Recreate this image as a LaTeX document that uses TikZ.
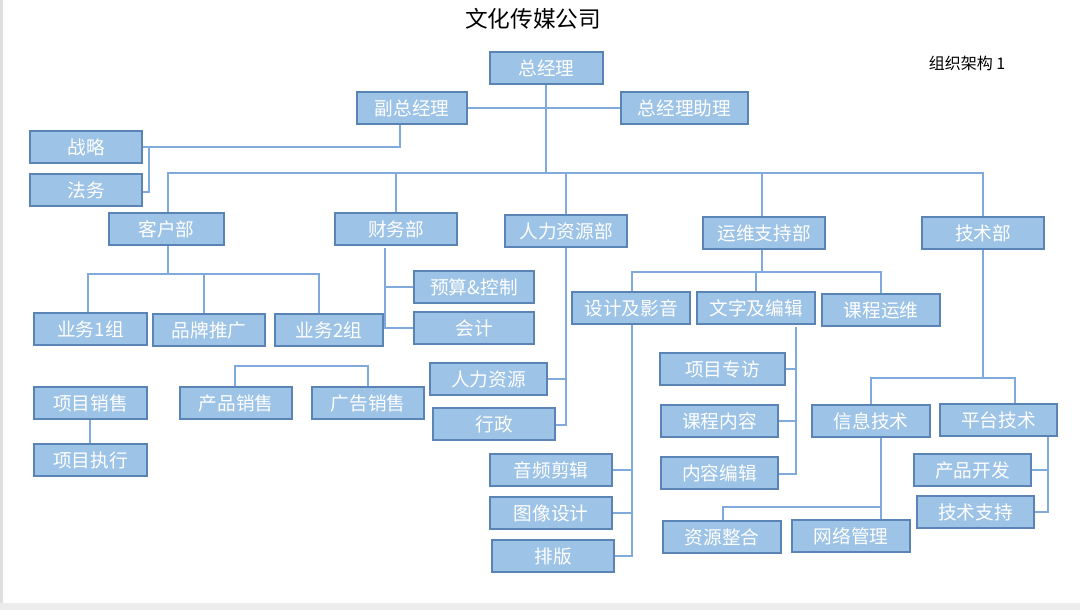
\documentclass[tikz,border=0pt]{standalone}
\usepackage{fontspec}
\setmainfont{Noto Sans CJK SC}
\begin{document}
\begin{tikzpicture}[x=0.75pt,y=-0.75pt,
  box/.style={draw=bordc,fill=boxc,line width=1pt,inner sep=0pt,text=white,font=\fontsize{14}{16}\selectfont},
  ln/.style={draw=linec,line width=0.9pt}]
\definecolor{boxc}{HTML}{9DC3E6}
\definecolor{bordc}{HTML}{5A84B5}
\definecolor{linec}{HTML}{7FAADB}
\useasboundingbox (0,0) rectangle (1080,610);
\fill[gray!25] (0,0) rectangle (3,610);
\fill[gray!15] (0,603) rectangle (1080,610);
\newcommand\bx[6]{\node[box,minimum width={(#4-#2)*0.75pt},minimum height={(#5-#3)*0.75pt}] (#1) at ({(#2+#4)/2},{(#3+#5)/2}) {#6};}
\node (title) at (533,19) {\fontsize{17}{20}\selectfont 文化传媒公司};
\node (lab) at (967,63) {\fontsize{12}{14}\selectfont 组织架构 1};
% connectors first
\coordinate (t1) at (546,173);
\draw[ln] (546,84) -- (t1);
\draw[ln] (467,108) -- (621,108);
\draw[ln] (168,213) |- (983,173) -- (983,217);
\draw[ln] (396,173) -- (396,213);
\draw[ln] (566,173) -- (566,215);
\draw[ln] (762,173) -- (762,217);
\draw[ln] (400,124) |- (142,147);
\draw[ln] (149,147) |- (142,192);
\draw[ln] (168,245) -- (168,274);
\draw[ln] (88,313) |- (319,274) -- (319,314);
\draw[ln] (204,274) -- (204,314);
\draw[ln] (385,248) |- (414,328);
\draw[ln] (385,287) -- (414,287);
\draw[ln] (566,247) |- (555,425);
\draw[ln] (566,379) -- (547,379);
\draw[ln] (90,419) -- (90,444);
\draw[ln] (235,387) |- (368,366) -- (368,387);
\draw[ln] (762,249) -- (762,272);
\draw[ln] (632,292) |- (881,272) -- (881,294);
\draw[ln] (756,272) -- (756,292);
\draw[ln] (632,324) |- (614,556);
\draw[ln] (632,470) -- (612,470);
\draw[ln] (632,513) -- (612,513);
\draw[ln] (796,327) |- (778,474);
\draw[ln] (796,369) -- (785,369);
\draw[ln] (796,421) -- (778,421);
\draw[ln] (983,249) -- (983,378);
\draw[ln] (871,405) |- (1015,378) -- (1015,404);
\draw[ln] (881,437) -- (881,520);
\draw[ln] (881,507) -| (723,521);
\draw[ln] (1048,436) |- (1034,512);
\draw[ln] (1048,470) -- (1031,470);
% boxes
\bx{zjl}{490}{52}{603}{84}{总经理}
\bx{fz}{357}{92}{467}{124}{副总经理}
\bx{zl}{621}{92}{748}{124}{总经理助理}
\bx{zl2}{30}{131}{142}{163}{战略}
\bx{fw}{30}{174}{142}{206}{法务}
\bx{kh}{109}{213}{224}{245}{客户部}
\bx{cw}{335}{213}{457}{245}{财务部}
\bx{rl}{505}{215}{627}{247}{人力资源部}
\bx{yw}{703}{217}{825}{249}{运维支持部}
\bx{js}{922}{217}{1044}{249}{技术部}
\bx{yw1}{34}{313}{147}{345}{业务1组}
\bx{pp}{153}{314}{265}{346}{品牌推广}
\bx{yw2}{275}{314}{383}{346}{业务2组}
\bx{ys}{414}{271}{534}{303}{预算\&控制}
\bx{kj}{414}{312}{534}{344}{会计}
\bx{rlzy}{430}{363}{547}{395}{人力资源}
\bx{xz}{433}{408}{555}{440}{行政}
\bx{xmxs}{34}{387}{147}{419}{项目销售}
\bx{xmzx}{34}{444}{147}{476}{项目执行}
\bx{cpxs}{180}{387}{292}{419}{产品销售}
\bx{ggxs}{312}{387}{424}{419}{广告销售}
\bx{sj}{572}{292}{690}{324}{设计及影音}
\bx{wz}{697}{292}{815}{324}{文字及编辑}
\bx{kc}{822}{294}{940}{326}{课程运维}
\bx{yp}{490}{454}{612}{486}{音频剪辑}
\bx{tx}{490}{497}{612}{529}{图像设计}
\bx{pb}{492}{540}{614}{572}{排版}
\bx{xmzf}{660}{353}{785}{385}{项目专访}
\bx{kcnr}{661}{405}{778}{437}{课程内容}
\bx{nrbj}{661}{457}{778}{489}{内容编辑}
\bx{xx}{812}{405}{930}{437}{信息技术}
\bx{pt}{940}{404}{1057}{436}{平台技术}
\bx{cpkf}{914}{454}{1031}{486}{产品开发}
\bx{jszc}{917}{496}{1034}{528}{技术支持}
\bx{zyzh}{663}{521}{781}{553}{资源整合}
\bx{wlgl}{792}{520}{910}{552}{网络管理}
\end{tikzpicture}
\end{document}
